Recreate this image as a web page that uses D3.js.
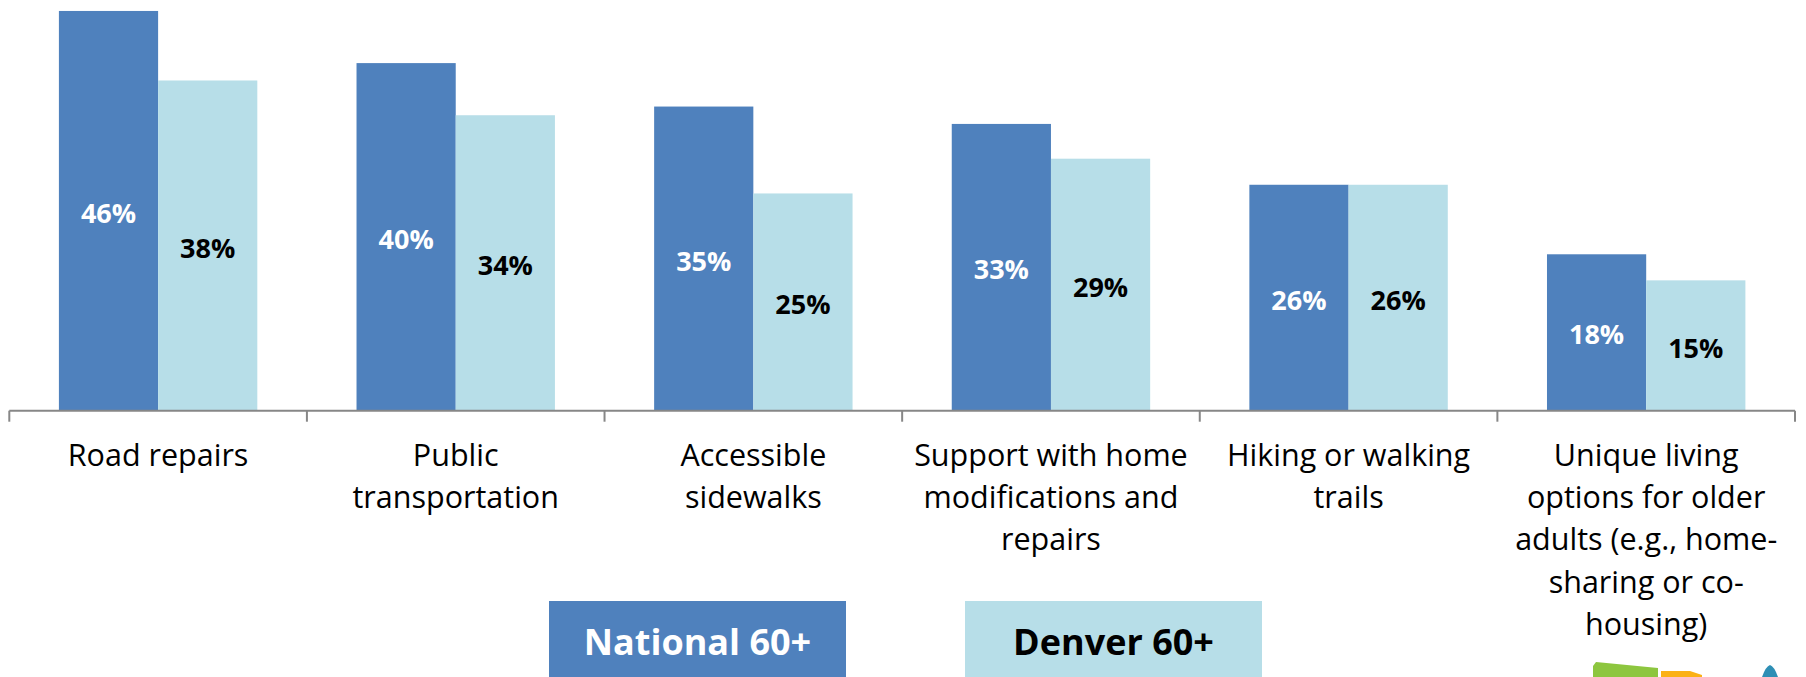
<!DOCTYPE html>
<html>
<head>
<meta charset="utf-8">
<script src="https://cdn.jsdelivr.net/npm/d3@7"></script>
<style>
  body { margin: 0; background: #fff; }
  svg { display: block; font-family: "Open Sans", "DejaVu Sans", sans-serif; }
</style>
</head>
<body>
<script>
// chart data
const categories = [
    ["Road repairs"],
    ["Public", "transportation"],
    ["Accessible", "sidewalks"],
    ["Support with home", "modifications and", "repairs"],
    ["Hiking or walking", "trails"],
    ["Unique living", "options for older", "adults (e.g., home-", "sharing or co-", "housing)"]
];
const seriesNames = ["National 60+", "Denver 60+"];
const nationalValues = [46, 40, 35, 33, 26, 18];
const denverValues = [38, 34, 25, 29, 26, 15];

const seriesColors = ["#4f81bd", "#b7dee8"];
const labelColors = ["#ffffff", "#000000"];

const width = 1806;
const height = 677;
const baseY = 410.7;

let svg = d3.select("body").append("svg")
    .attr("width", width)
    .attr("height", height);

let keys = categories.map(c => c.join(" "));

// one band per category, two bars inside each band
let x0 = d3.scaleBand()
    .domain(keys)
    .range([9.3, 1795])
    .paddingInner(0)
    .paddingOuter(0);

let x1 = d3.scaleBand()
    .domain(seriesNames)
    .range([0, x0.bandwidth()])
    .paddingInner(0)
    .paddingOuter(0.5);

let y = d3.scaleLinear()
    .domain([0, 50])
    .range([baseY, baseY - 50 * 8.69]);

let rows = keys.map((k, i) => ({
    key: k,
    values: [nationalValues[i], denverValues[i]]
}));

let groups = svg.selectAll("g.cat")
    .data(rows)
    .enter().append("g")
    .attr("class", "cat")
    .attr("transform", d => "translate(" + x0(d.key) + ",0)");

groups.selectAll("rect")
    .data(d => d.values.map((v, j) => ({ name: seriesNames[j], value: v, j: j })))
    .enter().append("rect")
    .attr("x", d => x1(d.name))
    .attr("y", d => y(d.value))
    .attr("width", x1.bandwidth())
    .attr("height", d => y(0) - y(d.value))
    .style("fill", d => seriesColors[d.j]);

// value labels sit in the middle of each bar
groups.selectAll("text.val")
    .data(d => d.values.map((v, j) => ({ name: seriesNames[j], value: v, j: j })))
    .enter().append("text")
    .attr("class", "val")
    .attr("x", d => x1(d.name) + x1.bandwidth() / 2)
    .attr("y", d => (y(d.value) + y(0)) / 2 + 12)
    .attr("text-anchor", "middle")
    .style("font-size", "27px")
    .style("font-weight", 700)
    .style("fill", d => labelColors[d.j])
    .text(d => d.value + "%");

/************************** AXIS ******************************************/

let axis = svg.append("g").attr("class", "axis");

axis.append("line")
    .attr("x1", x0.range()[0])
    .attr("x2", x0.range()[1])
    .attr("y1", baseY)
    .attr("y2", baseY)
    .style("stroke", "#878787")
    .style("stroke-width", 2);

let boundaries = keys.map(k => x0(k)).concat([x0.range()[1]]);
axis.selectAll("line.tick")
    .data(boundaries)
    .enter().append("line")
    .attr("class", "tick")
    .attr("x1", d => d)
    .attr("x2", d => d)
    .attr("y1", baseY)
    .attr("y2", baseY + 11)
    .style("stroke", "#878787")
    .style("stroke-width", 2);

let catLabels = axis.selectAll("text.cat")
    .data(categories)
    .enter().append("text")
    .attr("class", "cat")
    .attr("text-anchor", "middle")
    .attr("y", 466)
    .style("font-size", "30.5px")
    .style("fill", "#000");

catLabels.selectAll("tspan")
    .data((d, i) => d.map(line => ({ line: line, key: keys[i] })))
    .enter().append("tspan")
    .attr("x", d => x0(d.key) + x0.bandwidth() / 2)
    .attr("dy", (d, i) => i === 0 ? 0 : 42.2)
    .text(d => d.line);

/************************** LEGEND ****************************************/

let legendX = [549, 965];
let legend = svg.selectAll("g.legend")
    .data(seriesNames)
    .enter().append("g")
    .attr("class", "legend")
    .attr("transform", (d, i) => "translate(" + legendX[i] + ",601)");

legend.append("rect")
    .attr("width", 297)
    .attr("height", 80)
    .style("fill", (d, i) => seriesColors[i]);

legend.append("text")
    .attr("x", 148.5)
    .attr("y", 54)
    .attr("text-anchor", "middle")
    .style("font-size", "36px")
    .style("font-weight", 700)
    .style("fill", (d, i) => labelColors[i])
    .text(d => d);

// little logo peeking in at the bottom right corner
let logo = svg.append("g").attr("class", "logo");
logo.append("path")
    .attr("d", "M1593,666 L1596,662 L1658,668 L1658,677 L1593,677 Z")
    .style("fill", "#8dc63f");
logo.append("path")
    .attr("d", "M1661,671 L1690,671 L1702,675 L1702,677 L1661,677 Z")
    .style("fill", "#fbb116");
logo.append("path")
    .attr("d", "M1762,677 Q1766,666 1770,665 Q1774,666 1778,677 Z")
    .style("fill", "#2e8fb5");
</script>
</body>
</html>
